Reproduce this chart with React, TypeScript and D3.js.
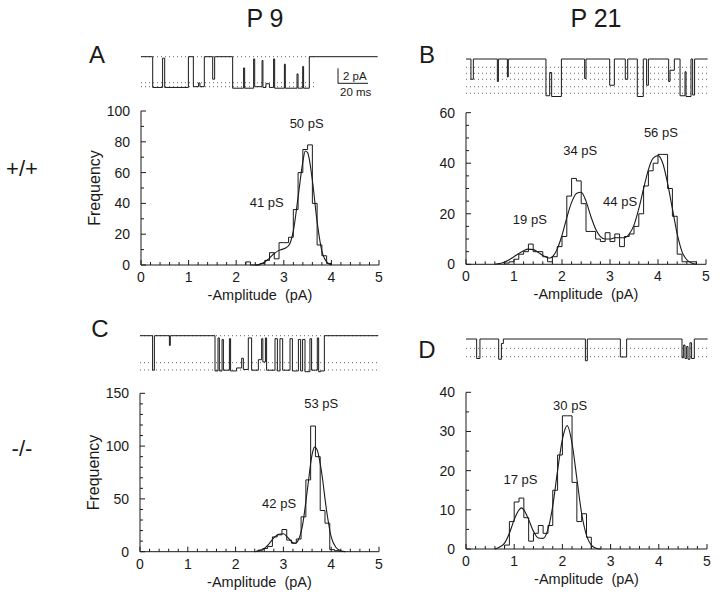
import React from 'react';
import * as d3 from 'd3';

// ---------- histogram data (bin width 0.1 pA) ----------
const binWidth = 0.1;
const histStartA = 2.2;
const histA = [2, 0, 0, 1, 3, 8, 4, 14.5, 14.5, 18, 36, 60, 75, 78, 40, 13, 6, 1];
const histStartB = 0.8;
const histB = [0.5, 1, 2, 4, 5, 8, 5, 5, 3, 1, 3, 7, 11, 27, 34, 33, 24, 13, 13, 10, 9, 12.5, 9, 12, 7, 11, 12, 15, 20, 31, 37, 40, 43.5, 43.5, 30, 19, 4, 1, 1, 1];
const histStartC = 2.47;
const histC = [1.5, 3, 5, 14, 16, 21, 11, 8, 12, 33, 68, 119, 90, 39, 27, 2, 1];
const histStartD = 0.8;
const histD = [1, 7, 12, 13, 8, 2, 4, 6, 4, 6, 15, 24, 34, 34, 17, 7, 9, 3];

// ---------- fitted curves, read point by point [pA, frequency] ----------
const fitA: [number, number][] = [[2.4, 0], [2.5, 0.5], [2.6, 2], [2.7, 4.5], [2.8, 7.5], [2.9, 9.5], [3.0, 10.5], [3.1, 12.5], [3.2, 22], [3.3, 44], [3.4, 67], [3.45, 74], [3.5, 73], [3.6, 55], [3.7, 28], [3.8, 9], [3.9, 2], [4.0, 0]];
const fitB: [number, number][] = [[0.6, 0], [0.7, 0.3], [0.8, 0.8], [0.9, 1.8], [1.0, 3], [1.1, 4.3], [1.2, 5.4], [1.3, 6], [1.4, 5.8], [1.5, 4.8], [1.6, 3.5], [1.7, 2.6], [1.75, 2.5], [1.8, 3], [1.9, 6], [2.0, 11.5], [2.1, 18.5], [2.2, 24.5], [2.3, 28], [2.4, 28.5], [2.5, 25], [2.6, 19], [2.7, 14], [2.8, 11], [2.9, 10], [3.0, 10], [3.1, 10.5], [3.2, 10.5], [3.3, 10.5], [3.4, 12], [3.5, 15.5], [3.6, 22], [3.7, 30], [3.8, 37.5], [3.9, 42], [4.0, 43], [4.1, 40], [4.2, 32], [4.3, 22], [4.4, 12], [4.5, 5], [4.6, 1.8], [4.7, 0.5], [4.8, 0]];
const fitC: [number, number][] = [[2.4, 0], [2.5, 1], [2.6, 3], [2.7, 7.5], [2.8, 13], [2.9, 16.5], [3.0, 17], [3.1, 13], [3.2, 8.5], [3.25, 8], [3.3, 10], [3.4, 25], [3.5, 58], [3.6, 92], [3.65, 99], [3.7, 97], [3.8, 75], [3.9, 40], [4.0, 14], [4.1, 4], [4.2, 1], [4.3, 0]];
const fitD: [number, number][] = [[0.6, 0], [0.7, 0.5], [0.8, 1.5], [0.9, 4], [1.0, 7.5], [1.1, 10], [1.15, 10.5], [1.2, 10], [1.3, 7.5], [1.4, 4.5], [1.5, 2.8], [1.6, 2.7], [1.7, 5], [1.8, 11], [1.9, 20], [2.0, 28], [2.1, 31.5], [2.2, 27], [2.3, 18], [2.4, 9], [2.5, 3.5], [2.6, 1], [2.7, 0.2], [2.8, 0]];

// ---------- peak labels [text, pA, frequency] ----------
const peaksA: [string, number, number][] = [['50 pS', 3.48, 89], ['41 pS', 2.64, 37.7]];
const peaksB: [string, number, number][] = [['56 pS', 4.06, 50.3], ['34 pS', 2.38, 43.2], ['44 pS', 3.21, 23], ['19 pS', 1.33, 15.9]];
const peaksC: [string, number, number][] = [['53 pS', 3.79, 136], ['42 pS', 2.91, 41.4]];
const peaksD: [string, number, number][] = [['30 pS', 2.16, 35.5], ['17 pS', 1.13, 16.6]];

// ---------- y tick values ----------
const yTicksA = [0, 20, 40, 60, 80, 100];
const yTicksB = [0, 20, 40, 60];
const yTicksC = [0, 50, 100, 150];
const yTicksD = [0, 10, 20, 30, 40];
const xTicks = [0, 1, 2, 3, 4, 5];

// ---------- single-channel traces: [time ms, current level pA] step points ----------
const traceA: [number, number][] = [[0, 0], [7.8, 4.1], [14.4, 0.2], [15.8, 4.1], [31.6, 0], [34.9, 4.0], [38.4, 3.5], [39.3, 4.0], [42.2, 0], [47.8, 3.0], [49.1, 0], [61.1, 4.2], [68.4, 1.5], [69.1, 4.2], [75.1, 0.3], [75.8, 4.0], [80.7, 0.5], [81.3, 4.1], [83.3, 3.6], [85.6, 4.1], [88.4, 0.3], [89.1, 4.2], [95.6, 1.0], [96.2, 4.2], [104, 2.3], [104.7, 4.2], [107.8, 1.3], [108.4, 4.2], [112.2, 0], [157.8, 0]];
const traceB: [number, number][] = [[0, 0], [3.3, 2.7], [4.9, 0], [20.9, 3.0], [21.6, 0], [27.6, 2.4], [28.2, 0], [53.3, 4.9], [55.8, 1.8], [57.1, 5.0], [63.6, 0], [79.1, 2.6], [80, 0], [95.8, 3.5], [98.9, 0], [106.2, 2.7], [107.8, 0], [114.2, 5.0], [118.2, 0], [120.4, 3.5], [121.6, 0], [135.1, 3.0], [136, 1.5], [138.9, 0], [142.7, 4.9], [146, 1.7], [146.7, 5.0], [150, 0], [151.1, 4.8], [152.4, 0], [161.1, 0]];
const traceC: [number, number][] = [[0, 0], [8.4, 4.6], [9.6, 0], [19.6, 1.3], [20.2, 0], [50, 4.7], [52, 0.3], [52.9, 4.7], [54.7, 0.5], [55.6, 4.6], [59.6, 0.4], [60.4, 4.7], [64.4, 4.3], [67.8, 3.0], [68.9, 4.5], [72.2, 0.3], [74.4, 4.6], [78.9, 3.2], [81.1, 0.4], [81.9, 3.5], [83.6, 0.3], [84.4, 4.6], [90, 0.4], [91.6, 4.7], [93.3, 0.4], [95.1, 4.6], [100, 0.4], [101.6, 4.7], [105.6, 0.5], [107.1, 4.7], [108.4, 0.5], [110, 4.8], [113.3, 0.4], [114.4, 4.6], [118.2, 0.3], [119.1, 4.8], [120.4, 4.7], [122.9, 0], [158.9, 0]];
const traceD: [number, number][] = [[0, 0], [7.1, 2.6], [9.3, 0], [21.8, 2.7], [23.6, 0.6], [24.9, 0], [79.6, 2.9], [80.9, 0], [102.9, 2.4], [107.1, 0], [144, 2.5], [145.1, 0.8], [146, 2.6], [147.1, 1.0], [148, 2.7], [149.3, 0.5], [150.4, 2.6], [152.2, 0], [161.1, 0]];

// dotted reference levels (pA) and their time span (ms)
const dottedA = [0, 3.47, 4.0];
const dottedSpanA: [number, number] = [0, 116];
const dottedB = [1.1, 1.9, 2.7, 3.7, 4.57];
const dottedSpanB: [number, number] = [0, 161];
const dottedC = [0, 3.6, 4.57];
const dottedSpanC: [number, number] = [0, 159];
const dottedD = [1.24, 2.36];
const dottedSpanD: [number, number] = [0, 161];

const FONT = "'Liberation Sans', Arial, Helvetica, sans-serif";
const INK = '#1a1a1a';

type PanelProps = {
  x0: number; x1: number; yBottom: number; yTop: number; yMax: number;
  yTicks: number[]; yMinor: number; hist: number[]; histStart: number;
  fit: [number, number][]; peaks: [string, number, number][];
  showYLabel: boolean;
  trace: [number, number][]; traceY: number; dotted: number[]; dottedSpan: [number, number];
};

const PX_PER_MS = 1.5;
const PX_PER_PA = 7.5;

function Panel(p: PanelProps) {
  const x = d3.scaleLinear().domain([0, 5]).range([p.x0, p.x1]);
  const y = d3.scaleLinear().domain([0, p.yMax]).range([p.yBottom, p.yTop]);

  const histPts: [number, number][] = [[p.histStart, 0]];
  p.hist.forEach((v, i) => histPts.push([p.histStart + i * binWidth, v]));
  histPts.push([p.histStart + p.hist.length * binWidth, 0]);
  const stepLine = d3.line<[number, number]>().x(d => x(d[0])).y(d => y(d[1])).curve(d3.curveStepAfter);
  const fitLine = d3.line<[number, number]>().x(d => x(d[0])).y(d => y(d[1])).curve(d3.curveMonotoneX);

  const minorX = d3.range(0, 5.0001, 0.2);
  const minorY = d3.range(0, p.yMax + 0.001, p.yMinor);

  const tx = d3.scaleLinear().domain([0, 1]).range([p.x0, p.x0 + PX_PER_MS]);
  const ty = d3.scaleLinear().domain([0, 1]).range([p.traceY, p.traceY + PX_PER_PA]);
  const traceLine = d3.line<[number, number]>().x(d => tx(d[0])).y(d => ty(d[1])).curve(d3.curveStepAfter);

  return (
    <g>
      {p.dotted.map((lv, i) => (
        <line key={'d' + i} x1={tx(p.dottedSpan[0])} x2={tx(p.dottedSpan[1])} y1={ty(lv)} y2={ty(lv)}
          stroke="#555" strokeWidth={0.9} strokeDasharray="1 3" />
      ))}
      <path d={traceLine(p.trace) || ''} fill="none" stroke={INK} strokeWidth={1} />

      <line x1={x(0)} x2={x(5)} y1={y(0)} y2={y(0)} stroke={INK} strokeWidth={1} />
      <line x1={x(0)} x2={x(0)} y1={y(0)} y2={y(p.yMax)} stroke={INK} strokeWidth={1} />
      {minorX.map((v, i) => {
        const major = Math.abs(v - Math.round(v)) < 1e-6;
        return <line key={'xt' + i} x1={x(v)} x2={x(v)} y1={y(0)} y2={y(0) - (major ? 5 : 3)} stroke={INK} strokeWidth={1} />;
      })}
      {minorY.map((v, i) => {
        const major = p.yTicks.some(t => Math.abs(t - v) < 1e-6);
        return <line key={'yt' + i} x1={x(0)} x2={x(0) + (major ? 5 : 3)} y1={y(v)} y2={y(v)} stroke={INK} strokeWidth={1} />;
      })}
      {xTicks.map(v => (
        <text key={'xl' + v} x={x(v)} y={y(0) + 17} textAnchor="middle" fontSize={14} fontFamily={FONT} fill={INK}>{v}</text>
      ))}
      {p.yTicks.map(v => (
        <text key={'yl' + v} x={x(0) - 11} y={y(v) + 5} textAnchor="end" fontSize={14} fontFamily={FONT} fill={INK}>{v}</text>
      ))}

      <path d={stepLine(histPts) || ''} fill="none" stroke={INK} strokeWidth={1} />
      <path d={fitLine(p.fit) || ''} fill="none" stroke={INK} strokeWidth={1.1} />

      {p.peaks.map(([t, a, f], i) => (
        <text key={'pk' + i} x={x(a)} y={y(f)} textAnchor="middle" fontSize={13} fontFamily={FONT} fill={INK}>{t}</text>
      ))}

      <text x={(x(0) + x(5)) / 2} y={y(0) + 35} textAnchor="middle" fontSize={14.5} fontFamily={FONT} fill={INK}
        style={{ whiteSpace: 'pre' }}>{'-Amplitude  (pA)'}</text>
      {p.showYLabel && (
        <text transform={`translate(${x(0) - 41},${(y(0) + y(p.yMax)) / 2}) rotate(-90)`} textAnchor="middle"
          fontSize={16} fontFamily={FONT} fill={INK}>Frequency</text>
      )}
    </g>
  );
}

export default function App() {
  return (
    <svg width={720} height={598} viewBox="0 0 720 598"
      style={{ position: 'absolute', left: 0, top: 0, background: '#fff' }}>
      <rect x={0} y={0} width={720} height={598} fill="#fff" />
      <text x={265} y={27} textAnchor="middle" fontSize={25} fontFamily={FONT} fill={INK}>P 9</text>
      <text x={596} y={27} textAnchor="middle" fontSize={25} fontFamily={FONT} fill={INK}>P 21</text>

      <text x={97} y={63} textAnchor="middle" fontSize={24} fontFamily={FONT} fill={INK}>A</text>
      <text x={427} y={63} textAnchor="middle" fontSize={24} fontFamily={FONT} fill={INK}>B</text>
      <text x={100} y={337} textAnchor="middle" fontSize={24} fontFamily={FONT} fill={INK}>C</text>
      <text x={427} y={358} textAnchor="middle" fontSize={24} fontFamily={FONT} fill={INK}>D</text>

      <text x={22} y={176} textAnchor="middle" fontSize={22} fontFamily={FONT} fill={INK}>+/+</text>
      <text x={22} y={456} textAnchor="middle" fontSize={22} fontFamily={FONT} fill={INK}>-/-</text>

      <Panel x0={141} x1={379} yBottom={265} yTop={111} yMax={100} yTicks={yTicksA} yMinor={10}
        hist={histA} histStart={histStartA} fit={fitA} peaks={peaksA} showYLabel={true}
        trace={traceA} traceY={56.7} dotted={dottedA} dottedSpan={dottedSpanA} />
      <Panel x0={466} x1={706} yBottom={264.3} yTop={112.7} yMax={60} yTicks={yTicksB} yMinor={5}
        hist={histB} histStart={histStartB} fit={fitB} peaks={peaksB} showYLabel={false}
        trace={traceB} traceY={59} dotted={dottedB} dottedSpan={dottedSpanB} />
      <Panel x0={140} x1={379} yBottom={551.7} yTop={393.3} yMax={150} yTicks={yTicksC} yMinor={10}
        hist={histC} histStart={histStartC} fit={fitC} peaks={peaksC} showYLabel={true}
        trace={traceC} traceY={335.7} dotted={dottedC} dottedSpan={dottedSpanC} />
      <Panel x0={466} x1={707} yBottom={549} yTop={392.3} yMax={40} yTicks={yTicksD} yMinor={5}
        hist={histD} histStart={histStartD} fit={fitD} peaks={peaksD} showYLabel={false}
        trace={traceD} traceY={339} dotted={dottedD} dottedSpan={dottedSpanD} />

      <line x1={338} x2={338} y1={83.3} y2={83.3 - 2 * PX_PER_PA} stroke={INK} strokeWidth={1} />
      <line x1={338} x2={338 + 20 * PX_PER_MS} y1={83.3} y2={83.3} stroke={INK} strokeWidth={1} />
      <text x={343} y={80} fontSize={11.5} fontFamily={FONT} fill={INK}>2 pA</text>
      <text x={340} y={96} fontSize={11.5} fontFamily={FONT} fill={INK}>20 ms</text>
    </svg>
  );
}
